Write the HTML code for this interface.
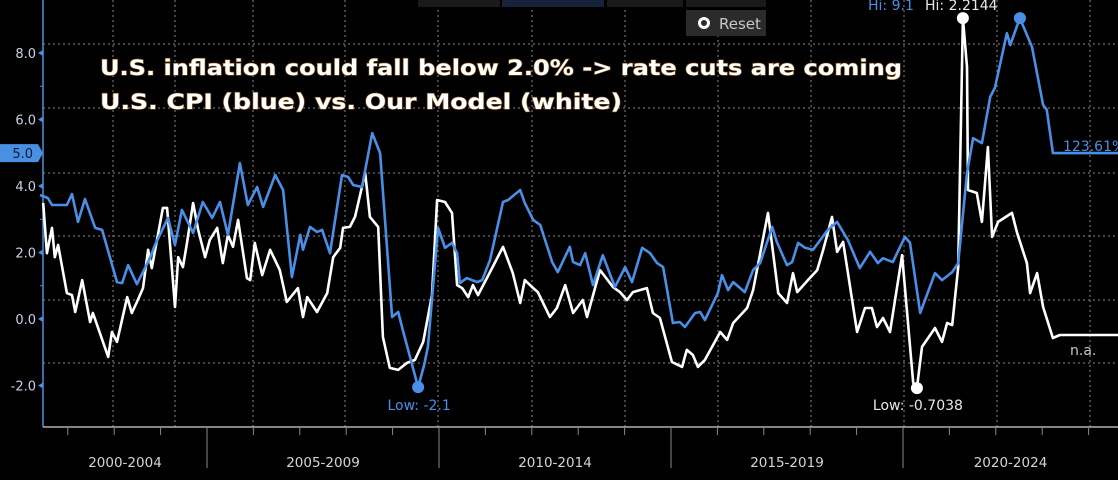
<!DOCTYPE html>
<html><head><meta charset="utf-8"><style>
html,body{margin:0;padding:0;background:#000;width:1118px;height:480px;overflow:hidden}
svg{display:block}
text{font-family:"DejaVu Sans","Liberation Sans",sans-serif}
</style></head><body>
<svg id="chart" width="1118" height="480" viewBox="0 0 1118 480" xmlns="http://www.w3.org/2000/svg">
<rect x="0" y="0" width="1118" height="480" fill="#000"/>
<g id="grid"></g>
<g>
<rect x="418" y="0" width="82" height="7" fill="#1a1a1a"/>
<rect x="502" y="0" width="102" height="7" fill="#17233a"/>
<rect x="607" y="0" width="76" height="7" fill="#1a1a1a"/>
<rect x="686" y="0" width="80" height="7" fill="#1a1a1a"/>
</g>
<g>
<rect x="686" y="10" width="80" height="26" fill="#2b2b2b"/>
<circle cx="704" cy="23" r="4.5" fill="none" stroke="#fff" stroke-width="3"/>
<text x="719" y="29" font-size="15" fill="#c8c8c8" font-family="Liberation Sans, sans-serif">Reset</text>
</g>
<g id="axes"></g>
<g id="series"></g>
<g style="paint-order:stroke" font-weight="bold">
<text x="100" y="75" font-size="21" fill="#fff" stroke="#7a4a10" stroke-width="1.2" textLength="802" lengthAdjust="spacingAndGlyphs">U.S. inflation could fall below 2.0% -&gt; rate cuts are coming</text>
<text x="100" y="109" font-size="21" fill="#fff" stroke="#7a4a10" stroke-width="1.2" textLength="522" lengthAdjust="spacingAndGlyphs">U.S. CPI (blue) vs. Our Model (white)</text>
</g>
</svg>
<script>
const yTicks = [8, 6, 4, 2, 0, -2];
const periodLabels = ["2000-2004", "2005-2009", "2010-2014", "2015-2019", "2020-2024"];
const cpiYears = [2001.40,2001.57,2001.66,2001.98,2002.09,2002.22,2002.37,2002.59,2002.74,2003.06,2003.17,2003.30,2003.49,2003.77,2003.88,2004.16,2004.31,2004.46,2004.70,2004.91,2005.11,2005.28,2005.45,2005.71,2005.88,2006.08,2006.21,2006.47,2006.64,2006.83,2007.01,2007.07,2007.22,2007.37,2007.48,2007.65,2007.91,2008.04,2008.15,2008.34,2008.56,2008.73,2008.99,2009.12,2009.22,2009.55,2009.68,2009.76,2009.98,2010.13,2010.28,2010.39,2010.45,2010.60,2010.82,2010.93,2011.10,2011.38,2011.49,2011.75,2011.85,2012.03,2012.18,2012.44,2012.56,2012.82,2012.89,2013.04,2013.15,2013.32,2013.53,2013.79,2014.01,2014.16,2014.38,2014.55,2014.70,2014.83,2015.04,2015.19,2015.30,2015.52,2015.63,2015.73,2016.01,2016.10,2016.23,2016.34,2016.59,2016.77,2016.92,2017.18,2017.28,2017.50,2017.61,2017.74,2017.89,2018.06,2018.38,2018.58,2018.81,2019.07,2019.29,2019.46,2019.57,2019.78,2020.04,2020.15,2020.37,2020.69,2020.84,2021.06,2021.19,2021.38,2021.51,2021.70,2021.88,2021.98,2022.24,2022.31,2022.52,2022.78,2023.02,2023.10,2023.23];
const cpiValues = [3.73,3.64,3.43,3.43,3.76,2.92,3.61,2.74,2.68,1.11,1.08,1.62,1.05,1.83,2.23,3.04,2.23,3.28,2.59,3.52,3.04,3.52,2.53,4.69,3.43,3.97,3.37,4.33,3.88,1.26,2.53,2.08,2.77,2.62,2.68,1.98,4.33,4.27,4.03,3.97,5.59,4.99,0.06,0.21,-0.33,-2.05,-1.38,-0.84,2.74,2.14,2.29,1.98,1.08,1.23,1.11,1.17,1.77,3.52,3.58,3.88,3.49,2.98,2.83,1.71,1.41,2.17,1.71,1.62,1.98,1.02,1.92,0.96,1.56,1.11,2.14,1.98,1.68,1.56,-0.12,-0.09,-0.24,0.18,0.21,-0.03,0.78,1.32,0.87,1.11,0.81,1.47,1.68,2.77,2.32,1.62,1.71,2.29,2.14,2.08,2.68,2.92,2.38,1.53,2.02,1.68,1.83,1.71,2.47,2.29,0.18,1.38,1.17,1.41,1.68,4.39,5.44,5.29,6.68,6.95,8.60,8.24,9.05,8.18,6.44,6.29,4.99];
const modelYears = [2001.47,2001.55,2001.66,2001.72,2001.79,2001.98,2002.09,2002.16,2002.31,2002.48,2002.54,2002.87,2002.95,2003.06,2003.28,2003.38,2003.49,2003.62,2003.73,2003.81,2004.05,2004.14,2004.31,2004.38,2004.48,2004.57,2004.70,2004.81,2004.96,2005.06,2005.22,2005.34,2005.45,2005.56,2005.67,2005.86,2005.93,2006.03,2006.19,2006.36,2006.57,2006.72,2006.96,2007.07,2007.16,2007.37,2007.59,2007.72,2007.87,2007.93,2008.08,2008.19,2008.41,2008.51,2008.69,2008.79,2008.94,2009.12,2009.31,2009.48,2009.66,2009.85,2009.96,2010.13,2010.28,2010.39,2010.50,2010.63,2010.73,2010.84,2011.10,2011.38,2011.59,2011.75,2011.85,2012.03,2012.13,2012.39,2012.54,2012.72,2012.89,2013.10,2013.19,2013.47,2013.75,2013.90,2014.05,2014.18,2014.48,2014.61,2014.76,2015.02,2015.24,2015.34,2015.47,2015.58,2015.73,2016.06,2016.21,2016.34,2016.64,2016.77,2017.09,2017.31,2017.50,2017.63,2017.72,2017.95,2018.15,2018.28,2018.47,2018.58,2018.71,2019.01,2019.18,2019.33,2019.44,2019.57,2019.72,2019.98,2020.22,2020.30,2020.41,2020.69,2020.84,2020.95,2021.06,2021.19,2021.29,2021.38,2021.40,2021.59,2021.70,2021.83,2021.92,2022.05,2022.35,2022.46,2022.67,2022.74,2022.89,2023.02,2023.23,2023.38];
const modelValues = [3.49,1.98,2.74,1.86,2.23,0.78,0.72,0.21,1.17,-0.09,0.18,-1.14,-0.39,-0.69,0.66,0.18,0.51,0.93,2.08,1.53,3.34,3.34,0.36,1.86,1.56,2.29,3.49,2.68,1.86,2.38,2.74,1.68,2.53,2.17,2.98,1.23,1.17,2.29,1.32,2.08,1.47,0.51,0.93,0.06,0.66,0.21,0.78,1.86,2.14,2.74,2.77,3.07,4.39,3.07,2.77,-0.54,-1.47,-1.53,-1.32,-1.23,-0.69,0.72,3.58,3.52,3.19,1.02,0.93,0.66,1.02,0.72,1.41,2.17,1.38,0.48,1.17,0.93,0.81,0.06,0.33,1.02,0.18,0.57,0.06,1.47,0.96,0.81,0.57,0.81,0.93,0.18,0.03,-1.29,-1.44,-0.93,-1.08,-1.44,-1.23,-0.39,-0.63,-0.12,0.33,0.87,3.19,0.78,0.48,1.38,0.81,1.17,1.47,2.08,3.07,2.02,2.32,-0.39,0.33,0.33,-0.24,0.03,-0.39,1.92,-1.92,-2.08,-0.84,-0.27,-0.69,-0.12,-0.18,1.56,9.05,7.58,3.88,3.79,2.92,5.17,2.47,2.92,3.19,2.59,1.68,0.78,1.38,0.36,-0.57,-0.48];

const NS = "http://www.w3.org/2000/svg";
const plotL = 43, plotR = 1118, axisY = 427;
function xScale(yr){ return 207 + (yr - 2005) * 46.4; }
function yScale(v){ return 319 - v * 33.25; }
function mk(tag, attrs, parent){ const e = document.createElementNS(NS, tag); for (const k in attrs) e.setAttribute(k, attrs[k]); parent.appendChild(e); return e; }

const grid = document.getElementById('grid');
[113,175,253,345,438,532,625,718,811,904,997,1090].forEach(gx => {
  const l = mk('line', {x1:gx, y1:0, x2:gx, y2:axisY, stroke:'#8a8a8a', 'stroke-width':1, 'stroke-dasharray':'2,3'}, grid);
  
  
});
[44,108,173,236,300,363].forEach(gy => {
  const l = mk('line', {x1:plotL, y1:gy, x2:plotR, y2:gy, stroke:'#8a8a8a', 'stroke-width':1, 'stroke-dasharray':'2,3'}, grid);
  
  
});

const axes = document.getElementById('axes');
const yAxis = mk('line', {x1:plotL, y1:0, x2:plotL, y2:axisY, stroke:'#4a90e2', 'stroke-width':1.5}, axes);


yTicks.forEach(t => {
  const y = yScale(t);
  const tri = mk('path', {d:`M${plotL} ${y-3} L${plotL-5} ${y} L${plotL} ${y+3}Z`, fill:'#4a90e2'}, axes);
  
  
  const tx = mk('text', {x:36, y:y+5, 'text-anchor':'end', 'font-size':13, fill:'#c8d2e4', 'font-family':'Liberation Sans, sans-serif'}, axes);
  tx.textContent = t.toFixed(1);
  
  
});
[1,2,3,4].forEach(k => {
  const m = mk('line', {x1:plotL-3, y1:yScale(k*2-1), x2:plotL, y2:yScale(k*2-1), stroke:'#4a90e2'}, axes);
  
  
});
const lastCpi = cpiValues[cpiValues.length-1];
const tag = mk('path', {d:`M0 ${yScale(lastCpi)-9} H38 L43 ${yScale(lastCpi)} L38 ${yScale(lastCpi)+9} H0Z`, fill:'#4a90e2'}, axes);


const tagT = mk('text', {x:33, y:yScale(lastCpi)+5, 'text-anchor':'end', 'font-size':13, fill:'#0a1a30', 'font-family':'Liberation Sans, sans-serif'}, axes);
tagT.textContent = lastCpi.toFixed(1);



const xAxis = mk('line', {x1:plotL, y1:axisY, x2:plotR, y2:axisY, stroke:'#b0b0b0', 'stroke-width':1.5}, axes);


for (let yr = 2002; yr <= 2025; yr++) {
  const x = xScale(yr);
  if (x > plotR) break;
  const isSep = yr % 5 === 0;
  const t = mk('line', {x1:x, y1:axisY, x2:x, y2:isSep ? 468 : axisY+8, stroke:'#8a8a8a', 'stroke-width':1}, axes);
  
  
}
periodLabels.forEach((lab, i) => {
  const start = Math.max(plotL, xScale(2000 + i*5));
  const end = Math.min(plotR, xScale(2005 + i*5));
  const t = mk('text', {x:(start+end)/2, y:467, 'text-anchor':'middle', 'font-size':13.5, fill:'#d4d4d4', 'font-family':'Liberation Sans, sans-serif'}, axes);
  t.textContent = lab;
  
  
});

const series = document.getElementById('series');
function drawLine(years, vals, color, name){
  let d = years.map((yr,i) => (i?'L':'M') + xScale(yr).toFixed(1) + ' ' + yScale(vals[i]).toFixed(1)).join(' ');
  d += ' L' + plotR + ' ' + yScale(vals[vals.length-1]).toFixed(1);
  const p = mk('path', {d, fill:'none', stroke:color, 'stroke-width':2.6, 'stroke-linejoin':'round'}, series);
  
  
}
drawLine(modelYears, modelValues, '#ffffff', 'model-line');
drawLine(cpiYears, cpiValues, '#4a8fe7', 'cpi-line');

function extreme(years, vals, fn){ let idx = 0; vals.forEach((v,i)=>{ if (fn(v, vals[idx])) idx = i; }); return [xScale(years[idx]), yScale(vals[idx]), vals[idx]]; }
const cMax = extreme(cpiYears, cpiValues, (a,b)=>a>b);
const cMin = extreme(cpiYears, cpiValues, (a,b)=>a<b);
const mMax = extreme(modelYears, modelValues, (a,b)=>a>b);
const mMin = extreme(modelYears, modelValues, (a,b)=>a<b);
[[cMax,'#4a8fe7','cpi-high-marker'],[cMin,'#4a8fe7','cpi-low-marker'],[mMax,'#ffffff','model-high-marker'],[mMin,'#ffffff','model-low-marker']].forEach(([p,c,n]) => {
  const ci = mk('circle', {cx:p[0], cy:p[1], r:6, fill:c}, series);
  
  
});
function label(x, y, txt, color, name, anchor){
  const t = mk('text', {x, y, 'font-size':14, fill:color, 'text-anchor':anchor||'start', 'font-family':'Liberation Sans, sans-serif'}, series);
  t.textContent = txt;
  
  
}
label(cMin[0]+1, 410, 'Low: -2.1', '#4a8fe7', 'cpi-low-label', 'middle');
label(mMin[0]+1, 410, 'Low: -0.7038', '#e8e8e8', 'model-low-label', 'middle');
label(868, 10, 'Hi: 9.1', '#4a8fe7', 'cpi-high-label');
label(925, 10, 'Hi: 2.2144', '#e8e8e8', 'model-high-label');
label(1063, 151, '123.61%', '#4a8fe7', 'cpi-last-label');
label(1070, 355, 'n.a.', '#c8c8c8', 'model-last-label');
</script>
</body></html>
